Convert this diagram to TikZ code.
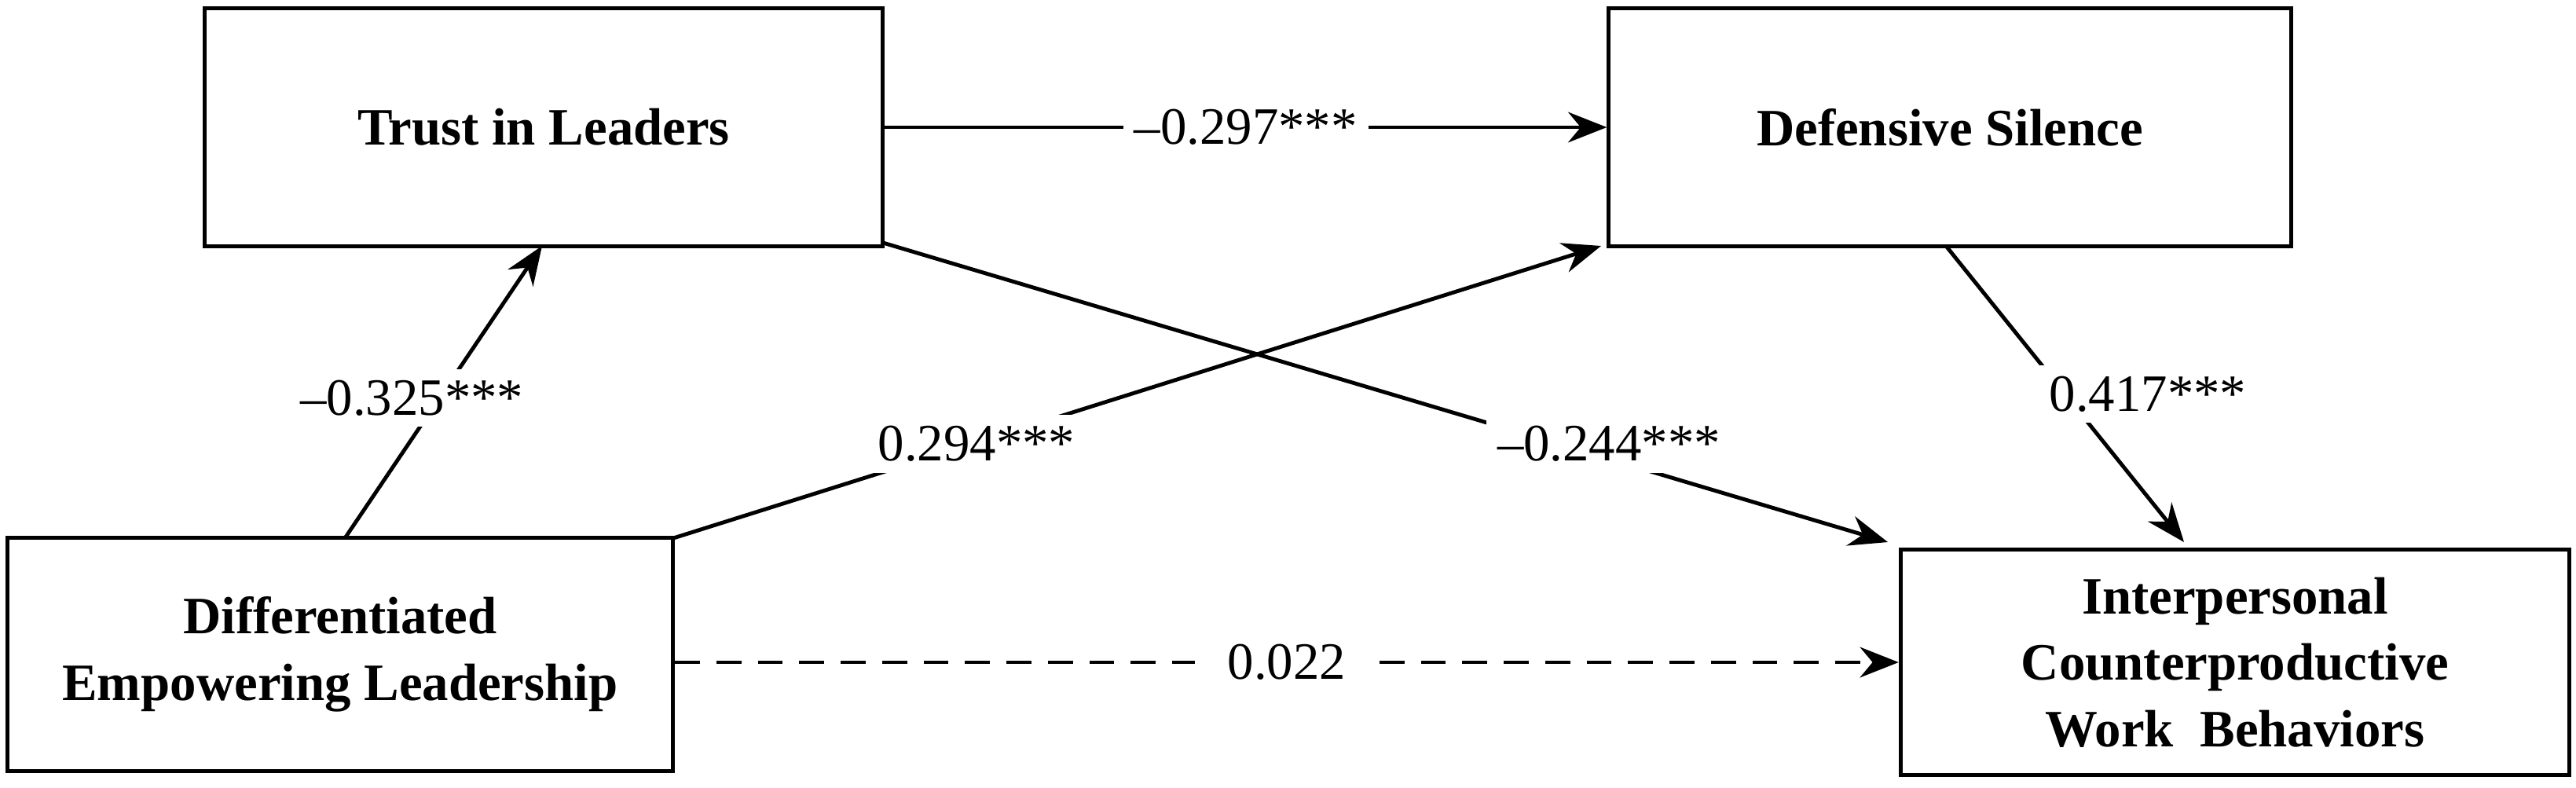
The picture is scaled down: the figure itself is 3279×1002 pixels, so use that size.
\documentclass[tikz,border=0pt]{standalone}
\usepackage{fontspec}
\setmainfont{Liberation Serif}
\usetikzlibrary{arrows.meta}

\begin{document}
\begin{tikzpicture}[x=0.01cm, y=-0.01cm,
    var/.style = {shape=rectangle, draw, line width=1.4pt,
      align=center, font=\fontsize{19}{24}\selectfont\bfseries,
      inner sep=0pt},
    path/.style = {line width=1.4pt, -{Stealth[length=14pt,width=11pt]}},
    coef/.style = {fill=white, font=\fontsize{19}{24}\selectfont, inner sep=4pt}]
  \useasboundingbox (0,0) rectangle (3279,1002);
  % variables
  \node[var, minimum width=8.63cm, minimum height=3.03cm] (trust) at (692,162) {Trust in Leaders};
  \node[var, minimum width=8.68cm, minimum height=3.03cm] (silence) at (2482,162) {Defensive Silence};
  \node[var, minimum width=8.47cm, minimum height=2.97cm] (del) at (433,833) {Differentiated\\Empowering Leadership};
  \node[var, minimum width=8.51cm, minimum height=2.86cm] (icwb) at (2845,843) {Interpersonal\\Counterproductive\\Work\ \ Behaviors};
  % end points on the boxes
  \coordinate (d1) at (439,685);
  \coordinate (d2) at (857,685);
  \coordinate (t1) at (690,313);
  \coordinate (t2) at (1124,309);
  \coordinate (s1) at (2038,313);
  \coordinate (s2) at (2477,313);
  \coordinate (i1) at (2403,690);
  \coordinate (i2) at (2780,690);
  % paths
  \draw[path] (trust.east) -- node[coef] {–0.297***} (silence.west);
  \draw[path] (d1) -- node[coef, pos=0.48, xshift=-10] {–0.325***} (t1);
  \draw[path] (t2) -- (i1);
  \draw[path] (d2) -- (s1);
  \draw[path] (s2) -- node[coef, pos=0.5, xshift=30] {0.417***} (i2);
  \draw[path, dash pattern=on 9pt off 6pt] (del.east |- icwb.west) -- node[coef, inner xsep=12pt] {0.022} (icwb.west);
  \node[coef] (c1) at (1243,565) {0.294***};
  \node[coef] (c2) at (2048,565) {–0.244***};
\end{tikzpicture}
\end{document}
